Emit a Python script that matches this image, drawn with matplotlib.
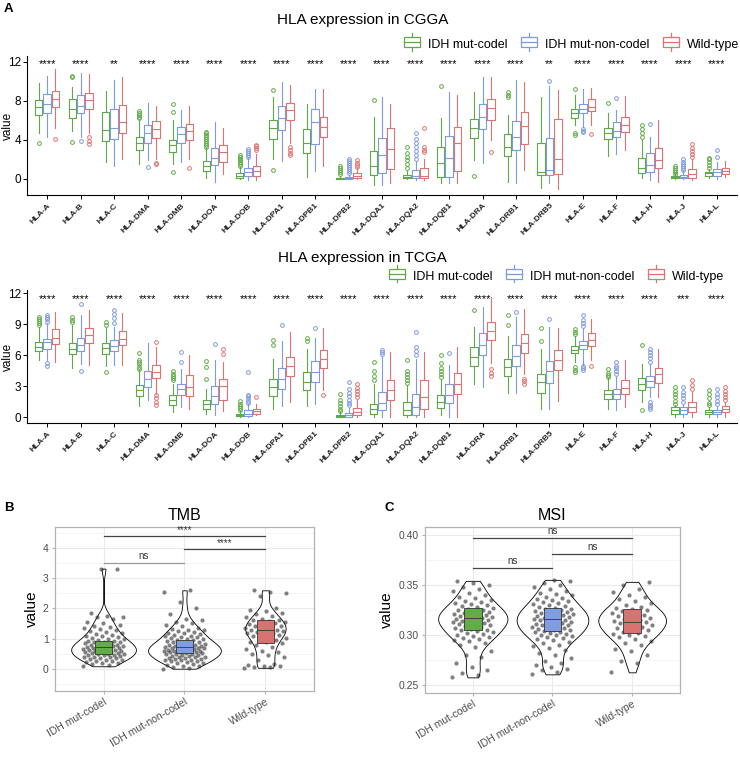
import matplotlib
matplotlib.use("Agg")
import matplotlib.pyplot as plt
import numpy as np
from matplotlib.legend_handler import HandlerBase
from matplotlib.patches import Rectangle, Patch
from matplotlib.lines import Line2D

plt.rcParams["font.family"] = ["Liberation Sans", "DejaVu Sans"]

# ---------------- data ----------------
genes = ["HLA-A", "HLA-B", "HLA-C", "HLA-DMA", "HLA-DMB", "HLA-DOA", "HLA-DOB",
         "HLA-DPA1", "HLA-DPB1", "HLA-DPB2", "HLA-DQA1", "HLA-DQA2", "HLA-DQB1",
         "HLA-DRA", "HLA-DRB1", "HLA-DRB5", "HLA-E", "HLA-F", "HLA-H", "HLA-J", "HLA-L"]
groups = ["IDH mut-codel", "IDH mut-non-codel", "Wild-type"]
group_colors = ["#5FAA46", "#7E9BE0", "#E07272"]
fill_colors = ["#62AD48", "#7F9DE0", "#D87371"]

cgga_signif = ["****", "****", "**", "****", "****", "****", "****", "****", "****", "****", "****",
               "****", "****", "****", "****", "**", "****", "****", "****", "****", "****"]
tcga_signif = ["****"] * 19 + ["***", "****"]

# CGGA box stats (whisker low, q1, median, q3, whisker high), one value per gene
cgga_codel_lo = [4.67, 4.9, 1.7, 1.5, 1.5, 0.13, 0.0, 2.0, 0.24, 0.0, -0.6, 0.0, -0.44, 1.95, -0.27, -0.95, 5.5, 2.35, 0.07, 0.0, 0.1]
cgga_codel_q1 = [6.55, 6.3, 3.92, 2.97, 2.73, 0.85, 0.14, 4.06, 2.63, 0.0, 0.41, 0.07, 0.24, 4.17, 2.39, 0.41, 6.3, 4.06, 0.58, 0.07, 0.31]
cgga_codel_med = [7.4, 7.13, 5.0, 3.72, 3.44, 1.36, 0.31, 5.22, 3.72, 0.07, 1.33, 0.24, 1.6, 5.2, 3.31, 0.75, 6.72, 4.67, 1.09, 0.17, 0.58]
cgga_codel_q3 = [8.08, 8.15, 6.85, 4.33, 3.99, 1.88, 0.58, 6.03, 5.08, 0.14, 2.87, 0.38, 3.25, 6.12, 4.57, 3.65, 7.19, 5.18, 2.11, 0.34, 0.75]
cgga_codel_hi = [9.85, 9.44, 9.0, 5.9, 6.0, 3.2, 1.2, 8.4, 7.67, 0.34, 6.4, 0.85, 6.2, 8.95, 6.6, 8.42, 8.6, 6.72, 4.0, 0.7, 1.0]
cgga_codel_out = [[3.65], [10.6, 10.5, 3.75], [], [6.2, 6.4, 6.6, 6.8, 6.95], [7.67, 6.85, 0.68],
                  [3.3, 3.5, 3.7, 3.9, 4.1, 4.3, 4.5, 4.7, 4.8], [1.3, 1.5, 1.7, 1.9, 2.1, 2.3, 2.5], [9.1, 0.9], [],
                  [0.5, 0.7, 0.9, 1.1, 1.3], [8.1], [1.1, 1.5, 1.9, 2.3, 2.7, 3.3], [9.5], [0.34], [8.4, 8.6, 8.9],
                  [], [9.17, 4.67, 4.5], [7.8], [4.33, 4.7, 5.1, 5.5], [0.5, 0.7, 0.9, 1.1, 1.36], [1.1, 1.4, 1.7, 2.0, 2.2]]

cgga_noncodel_lo = [4.26, 4.33, 1.36, 1.94, 1.74, -0.27, -0.1, 1.88, 0.85, 0.0, -0.6, -0.1, -0.44, 1.6, -0.37, -0.37, 5.35, 2.56, -0.1, 0.0, 0.0]
cgga_noncodel_q1 = [6.72, 6.72, 4.09, 3.72, 3.65, 1.47, 0.34, 5.0, 3.58, 0.0, 0.58, 0.07, 0.24, 5.13, 2.97, 0.41, 6.72, 4.33, 0.68, 0.14, 0.34]
cgga_noncodel_med = [7.64, 7.47, 5.18, 4.67, 4.57, 2.18, 0.75, 6.3, 5.86, 0.07, 2.46, 0.34, 2.2, 6.4, 4.26, 0.92, 7.16, 4.9, 1.4, 0.24, 0.75]
cgga_noncodel_q3 = [8.66, 8.6, 7.13, 5.49, 5.28, 3.2, 1.09, 7.47, 7.2, 0.17, 4.17, 0.92, 4.41, 7.66, 5.93, 4.23, 7.64, 5.8, 2.69, 0.41, 0.99]
cgga_noncodel_hi = [10.6, 10.9, 10.1, 7.74, 7.06, 5.83, 2.2, 9.9, 9.17, 0.4, 8.4, 1.8, 8.9, 10.4, 10.1, 9.5, 9.27, 7.06, 4.33, 0.8, 1.77]
cgga_noncodel_out = [[], [3.9], [], [1.26], [], [], [2.3, 2.5, 2.7, 2.9, 3.1], [], [],
                     [0.6, 0.8, 1.0, 1.2, 1.4, 1.6, 1.8, 2.05], [], [2.1, 2.5, 2.9, 3.3, 3.7, 4.1, 4.7], [], [], [],
                     [10.0], [5.1, 4.95, 4.84], [8.25], [5.63], [0.9, 1.1, 1.3, 1.5, 1.7, 2.05], [2.28, 2.97]]

cgga_wild_lo = [5.25, 4.74, 2.1, 2.0, 2.0, 0.5, -0.1, 3.65, 1.36, 0.0, -0.38, -0.1, -0.4, 4.0, 0.92, -1.06, 5.52, 2.97, -0.27, -0.1, 0.24]
cgga_wild_q1 = [7.33, 7.13, 4.74, 4.19, 3.99, 1.7, 0.34, 6.03, 4.26, 0.13, 1.0, 0.07, 0.85, 6.05, 3.58, 0.51, 6.96, 4.77, 1.09, 0.14, 0.51]
cgga_wild_med = [8.18, 8.08, 5.86, 5.15, 4.9, 2.8, 0.85, 7.06, 5.28, 0.3, 3.04, 0.34, 3.66, 7.25, 5.45, 2.08, 7.4, 5.52, 1.94, 0.5, 0.82]
cgga_wild_q3 = [9.0, 8.76, 7.6, 5.9, 5.63, 3.44, 1.36, 7.8, 6.38, 0.58, 5.2, 1.1, 5.3, 8.17, 6.82, 6.1, 8.15, 6.38, 3.14, 0.99, 1.09]
cgga_wild_hi = [11.25, 10.75, 10.5, 7.47, 7.53, 5.18, 2.6, 9.58, 9.17, 1.1, 7.66, 2.1, 8.6, 10.5, 9.96, 9.1, 9.34, 8.52, 6.03, 2.1, 1.84]
cgga_wild_out = [[4.1], [4.26, 3.92, 3.55], [], [1.67, 1.5], [1.12], [], [3.0, 3.2, 3.4, 3.5],
                 [3.3, 3.0, 2.7, 2.45], [], [1.25, 1.45, 1.65, 1.95], [], [2.8, 3.0, 3.3, 5.2], [], [2.73], [],
                 [], [4.57], [], [], [2.3, 2.6, 2.9, 3.2, 3.58], []]

# TCGA box stats
tcga_codel_lo = [5.51, 4.8, 5.0, 1.04, 0.49, 0.32, 0.0, 0.81, 1.04, 0.0, 0.0, 0.0, 0.16, 3.2, 2.37, 0.81, 5.35, 0.81, 1.46, 0.0, 0.0]
tcga_codel_q1 = [6.42, 6.16, 6.16, 2.08, 1.2, 0.81, 0.06, 2.01, 2.66, 0.0, 0.32, 0.16, 0.88, 4.98, 3.99, 2.34, 6.23, 1.78, 2.66, 0.32, 0.32]
tcga_codel_med = [6.81, 6.65, 6.71, 2.66, 1.62, 1.23, 0.16, 2.92, 3.4, 0.1, 0.81, 0.65, 1.46, 5.85, 4.87, 3.4, 6.55, 2.21, 3.24, 0.65, 0.49]
tcga_codel_q3 = [7.3, 7.2, 7.14, 3.08, 2.17, 1.69, 0.32, 3.67, 4.38, 0.23, 1.3, 1.46, 2.17, 6.75, 5.61, 4.22, 6.91, 2.6, 3.8, 0.97, 0.71]
tcga_codel_hi = [8.76, 8.9, 8.7, 4.54, 3.24, 2.76, 0.6, 5.68, 6.65, 0.5, 3.24, 3.08, 3.57, 8.7, 7.85, 6.65, 7.85, 3.83, 5.19, 1.14, 0.97]
tcga_codel_out = [[8.9, 9.1, 9.3, 9.5, 9.67], [9.2, 9.4, 9.7], [8.9, 9.2, 4.38], [4.7, 4.9, 5.1, 5.3, 5.5, 6.23],
                  [3.57, 3.8, 4.0, 4.2, 4.48], [3.67, 4.9, 5.45], [0.7, 0.9, 1.1, 1.3, 1.6], [6.97, 7.5], [7.4, 7.7],
                  [0.6, 0.8, 1.1, 1.4, 1.7, 2.27], [3.57, 4.0, 4.5, 5.35], [3.3, 3.6, 3.9, 4.2, 4.5, 5.5],
                  [3.9, 4.2, 4.5, 4.8, 5.2, 6.0], [10.4], [8.9, 9.9], [7.4, 8.6], [8.1, 8.3, 8.5, 4.87, 4.6, 4.38],
                  [3.9, 4.1, 4.3, 4.7], [6.97, 0.71], [1.3, 1.6, 1.9, 2.2, 2.5, 2.9], [1.14, 1.4, 1.8, 2.2, 2.6]]

tcga_noncodel_lo = [5.5, 5.19, 5.03, 1.62, 0.97, 0.16, 0.0, 1.04, 1.23, 0.0, 0.0, 0.0, 0.0, 2.9, 2.37, 0.81, 5.03, 0.65, 1.95, 0.0, 0.0]
tcga_noncodel_q1 = [6.58, 6.42, 6.42, 2.92, 2.11, 1.3, 0.06, 2.76, 3.4, 0.0, 0.71, 0.16, 1.36, 6.0, 5.0, 3.34, 6.58, 1.78, 2.92, 0.32, 0.26]
tcga_noncodel_med = [7.27, 6.97, 6.88, 3.73, 2.69, 2.04, 0.25, 3.73, 4.38, 0.16, 1.39, 0.97, 2.17, 7.0, 5.9, 4.48, 6.97, 2.27, 3.47, 0.71, 0.49]
tcga_noncodel_q3 = [7.62, 7.69, 7.46, 4.48, 3.18, 2.98, 0.65, 4.8, 5.45, 0.39, 2.43, 2.27, 3.24, 8.15, 6.97, 5.45, 7.36, 2.76, 3.96, 0.97, 0.71]
tcga_noncodel_hi = [9.15, 9.9, 8.76, 7.2, 4.7, 5.5, 1.3, 7.4, 7.72, 0.9, 5.9, 5.68, 5.03, 10.7, 9.73, 8.76, 8.5, 3.9, 5.19, 1.14, 0.97]
tcga_noncodel_out = [[9.2, 9.5, 9.7, 9.9, 5.2, 5.0], [10.96, 4.48], [9.15, 9.6, 10.0, 10.38], [], [5.38, 6.33],
                     [7.07], [1.4, 1.6, 1.8, 2.0, 2.1, 4.4], [8.98], [8.69], [1.14, 1.4, 1.7, 2.0, 2.3, 2.7, 3.4],
                     [6.1, 6.3, 6.49], [6.0, 6.4, 6.8, 8.27], [6.23], [], [10.2], [9.47],
                     [8.8, 9.1, 9.4, 9.9, 4.96, 4.8, 4.6], [4.22, 4.5, 4.8, 5.0, 5.35],
                     [5.35, 5.7, 6.0, 6.3, 6.65, 1.46, 1.2, 0.95, 0.81], [1.46, 1.8, 2.1, 2.4, 2.9], [1.3, 1.6, 1.9, 2.2, 2.76]]

tcga_wild_lo = [5.35, 5.03, 5.03, 2.27, 0.81, 0.58, 0.2, 1.46, 2.6, 0.0, 0.0, 0.0, 0.0, 5.28, 4.22, 1.56, 5.51, 0.97, 1.95, 0.0, 0.0]
tcga_wild_q1 = [7.07, 7.14, 6.97, 3.83, 2.01, 1.69, 0.33, 3.99, 4.8, 0.16, 1.62, 0.81, 2.27, 7.47, 6.26, 4.54, 6.88, 2.21, 3.34, 0.49, 0.49]
tcga_wild_med = [7.72, 7.95, 7.62, 4.38, 2.92, 2.98, 0.55, 4.93, 5.61, 0.49, 2.66, 1.95, 3.24, 8.38, 7.14, 5.51, 7.46, 2.85, 4.15, 0.97, 0.81]
tcga_wild_q3 = [8.5, 8.6, 8.37, 5.03, 4.05, 3.73, 0.82, 5.84, 6.49, 0.91, 3.57, 3.57, 4.31, 9.19, 8.04, 6.55, 8.11, 3.57, 4.8, 1.46, 1.04]
tcga_wild_hi = [10.15, 10.38, 10.12, 6.8, 6.0, 5.35, 1.27, 8.27, 8.69, 1.62, 6.33, 6.33, 6.75, 11.64, 10.44, 8.6, 9.47, 5.51, 6.65, 2.43, 1.46]
tcga_wild_out = [[], [], [], [7.27, 2.1, 1.8, 1.5, 1.14], [], [6.1, 6.65], [1.92], [], [2.1],
                 [1.95, 2.2, 2.5, 2.8, 3.24], [], [], [], [4.7, 4.3, 3.98], [3.73, 3.5, 3.18], [], [4.93], [], [],
                 [2.76, 3.1, 3.57], [1.62, 1.9, 2.2, 2.5, 2.9]]

# TMB / MSI per-sample values (read from the jittered points)
tmb_codel = [0.08, 0.12, 0.15, 0.18, 0.2, 0.22, 0.25, 0.27, 0.3, 0.3, 0.32, 0.35, 0.36, 0.38, 0.4, 0.4, 0.42,
             0.44, 0.45, 0.46, 0.48, 0.5, 0.5, 0.52, 0.53, 0.55, 0.55, 0.56, 0.58, 0.6, 0.6, 0.62, 0.63, 0.65,
             0.66, 0.68, 0.7, 0.7, 0.72, 0.72, 0.74, 0.75, 0.76, 0.78, 0.8, 0.8, 0.82, 0.84, 0.85, 0.87, 0.88,
             0.9, 0.92, 0.93, 0.95, 0.97, 1.0, 1.02, 1.05, 1.08, 1.1, 1.12, 1.15, 1.2, 1.22, 1.25, 1.3, 1.32,
             1.35, 1.38, 1.4, 1.45, 1.5, 1.55, 1.65, 1.7, 1.72, 1.75, 1.85, 3.3, 3.32]
tmb_noncodel = [0.0, 0.03, 0.05, 0.08, 0.1, 0.12, 0.15, 0.18, 0.2, 0.22, 0.25, 0.27, 0.28, 0.3, 0.3, 0.32, 0.33,
                0.35, 0.36, 0.38, 0.4, 0.4, 0.42, 0.43, 0.45, 0.46, 0.48, 0.5, 0.5, 0.52, 0.53, 0.55, 0.55, 0.56,
                0.58, 0.58, 0.6, 0.6, 0.62, 0.63, 0.64, 0.65, 0.67, 0.68, 0.7, 0.7, 0.72, 0.72, 0.73, 0.75, 0.76,
                0.78, 0.8, 0.8, 0.82, 0.83, 0.85, 0.87, 0.88, 0.9, 0.92, 0.94, 0.95, 0.97, 1.0, 1.02, 1.04, 1.06,
                1.08, 1.1, 1.12, 1.15, 1.18, 1.2, 1.22, 1.25, 1.28, 1.3, 1.33, 1.36, 1.4, 1.45, 1.5, 1.55, 1.6,
                1.65, 1.8, 2.0, 2.2, 2.55, 2.6]
tmb_wild = [0.03, 0.05, 0.06, 0.08, 0.1, 0.12, 0.15, 0.3, 0.4, 0.45, 0.5, 0.55, 0.6, 0.65, 0.72, 0.8, 0.85,
            0.88, 0.9, 0.95, 1.0, 1.02, 1.05, 1.1, 1.12, 1.15, 1.18, 1.2, 1.22, 1.25, 1.27, 1.28, 1.3, 1.32,
            1.35, 1.38, 1.4, 1.42, 1.45, 1.48, 1.5, 1.52, 1.55, 1.58, 1.6, 1.62, 1.65, 1.7, 1.75, 1.8, 1.85,
            1.9, 1.95, 2.0, 2.4, 2.5, 2.55, 2.6]
msi_codel = [0.258, 0.26, 0.262, 0.265, 0.268, 0.272, 0.278, 0.28, 0.284, 0.288, 0.29, 0.292, 0.294, 0.295,
             0.296, 0.297, 0.298, 0.299, 0.300, 0.301, 0.302, 0.303, 0.304, 0.305, 0.305, 0.306, 0.307, 0.308,
             0.309, 0.31, 0.31, 0.311, 0.312, 0.312, 0.313, 0.314, 0.314, 0.315, 0.316, 0.316, 0.317, 0.317,
             0.318, 0.318, 0.319, 0.32, 0.32, 0.321, 0.322, 0.322, 0.323, 0.324, 0.325, 0.325, 0.326, 0.327,
             0.328, 0.329, 0.33, 0.331, 0.332, 0.333, 0.334, 0.335, 0.337, 0.338, 0.34, 0.342, 0.344, 0.346,
             0.348, 0.35, 0.352, 0.354]
msi_noncodel = [0.261, 0.263, 0.265, 0.266, 0.268, 0.27, 0.272, 0.274, 0.277, 0.28, 0.282, 0.285, 0.287,
                0.289, 0.29, 0.292, 0.293, 0.295, 0.296, 0.297, 0.298, 0.299, 0.3, 0.3, 0.301, 0.302, 0.303,
                0.303, 0.304, 0.305, 0.305, 0.306, 0.307, 0.307, 0.308, 0.309, 0.31, 0.31, 0.311, 0.311, 0.312,
                0.313, 0.313, 0.314, 0.315, 0.315, 0.316, 0.316, 0.317, 0.317, 0.318, 0.319, 0.319, 0.32, 0.32,
                0.321, 0.322, 0.322, 0.323, 0.324, 0.324, 0.325, 0.326, 0.326, 0.327, 0.328, 0.329, 0.33, 0.331,
                0.332, 0.333, 0.334, 0.335, 0.336, 0.337, 0.338, 0.34, 0.341, 0.342, 0.344, 0.346, 0.348, 0.35,
                0.352, 0.354, 0.355]
msi_wild = [0.263, 0.272, 0.274, 0.28, 0.284, 0.286, 0.29, 0.292, 0.294, 0.296, 0.298, 0.299, 0.3, 0.301,
            0.302, 0.303, 0.305, 0.306, 0.307, 0.308, 0.309, 0.31, 0.311, 0.312, 0.313, 0.313, 0.314, 0.315,
            0.316, 0.317, 0.318, 0.319, 0.32, 0.321, 0.322, 0.323, 0.324, 0.325, 0.326, 0.327, 0.328, 0.33,
            0.332, 0.334, 0.336, 0.338, 0.34, 0.343, 0.346, 0.35, 0.353]

tmb_box = [(0.5, 0.72, 0.92), (0.52, 0.72, 0.95), (0.85, 1.27, 1.6)]
msi_box = [(0.305, 0.317, 0.327), (0.304, 0.316, 0.327), (0.302, 0.313, 0.326)]

tmb_pairs = [(1, 3, 4.4, "****"), (2, 3, 3.97, "****"), (1, 2, 3.52, "ns")]
msi_pairs = [(1, 3, 0.397, "ns"), (2, 3, 0.381, "ns"), (1, 2, 0.367, "ns")]


class BoxKey(HandlerBase):
    def create_artists(self, legend, orig, xd, yd, w, h, fontsize, trans):
        c = orig.get_edgecolor()
        x0, x1 = xd + 0.05 * w, xd + 0.95 * w
        xm = xd + 0.5 * w
        rect = Rectangle((x0, yd + 0.05 * h), x1 - x0, 0.9 * h, fill=False, ec=c, lw=0.9, transform=trans)
        med = Line2D([x0, x1], [yd + 0.5 * h] * 2, color=c, lw=0.9, transform=trans)
        w1 = Line2D([xm, xm], [yd - 0.3 * h, yd + 0.05 * h], color=c, lw=0.9, transform=trans)
        w2 = Line2D([xm, xm], [yd + 0.95 * h, yd + 1.3 * h], color=c, lw=0.9, transform=trans)
        return [rect, med, w1, w2]


def hla_panel(ax, stats, outs, signif, ylim, yticks):
    pos = np.arange(1, len(genes) + 1)
    for g in range(3):
        lo, q1, med, q3, hi = stats[g]
        bstats = [dict(whislo=lo[i], q1=q1[i], med=med[i], q3=q3[i], whishi=hi[i], fliers=outs[g][i])
                  for i in range(len(genes))]
        col = group_colors[g]
        ax.bxp(bstats, positions=pos + (g - 1) * 0.25, widths=0.22, showcaps=False,
               boxprops=dict(color=col, lw=0.8), medianprops=dict(color=col, lw=0.8),
               whiskerprops=dict(color=col, lw=0.8),
               flierprops=dict(marker="o", mfc="none", mec=col, ms=2.7, mew=0.7))
    for i, s in enumerate(signif):
        ax.text(pos[i], ylim[1] - 0.85, s, ha="center", va="center", fontsize=8)
    ax.set_xlim(0.4, len(genes) + 0.6)
    ax.set_ylim(*ylim)
    ax.set_yticks(yticks)
    ax.set_xticks(pos)
    ax.set_xticklabels(genes, rotation=45, ha="right", rotation_mode="anchor",
                       fontsize=6, fontweight="bold", color="#222222")
    ax.tick_params(axis="y", labelsize=8.5, length=3, width=0.7, pad=1)
    ax.tick_params(axis="x", length=3, width=0.7, pad=2)
    ax.spines["top"].set_visible(False)
    ax.spines["right"].set_visible(False)
    ax.spines["left"].set_linewidth(0.8)
    ax.spines["bottom"].set_linewidth(0.8)
    ax.set_ylabel("value", fontsize=8.5)
    ax.yaxis.set_label_coords(-0.018, 0.5)


def violin_panel(ax, data, box, pairs, widths, ylim, yticks, minor, fmt, title):
    pos = [1, 2, 3]
    vp = ax.violinplot(data, positions=pos, widths=widths, showextrema=False, bw_method=0.35)
    for b in vp["bodies"]:
        b.set_facecolor("white")
        b.set_alpha(1)
        b.set_edgecolor("black")
        b.set_linewidth(0.6)
        b.set_zorder(2)
    for g, vals in enumerate(data):
        n = len(vals)
        jit = ((np.arange(n) * 0.6180339887) % 1.0 - 0.5) * 0.52
        ax.scatter(pos[g] + jit, vals, s=9, color="#2b2b2b", alpha=0.6, lw=0, zorder=3)
    bstats = [dict(whislo=b[0], q1=b[0], med=b[1], q3=b[2], whishi=b[2], fliers=[]) for b in box]
    bp = ax.bxp(bstats, positions=pos, widths=0.22, showcaps=False, showfliers=False, patch_artist=True,
                boxprops=dict(lw=0.6, edgecolor="#333333"), medianprops=dict(color="#333333", lw=0.6),
                whiskerprops=dict(lw=0), zorder=4)
    for patch, c in zip(bp["boxes"], fill_colors):
        patch.set_facecolor(c)
    for x1, x2, y, lab in pairs:
        lc = "#999999" if (lab == "ns" and title == "TMB") else "#444444"
        ax.plot([x1, x2], [y, y], color=lc, lw=0.9, zorder=5)
        ax.text((x1 + x2) / 2, y + (ylim[1] - ylim[0]) * 0.008, lab, ha="center", va="bottom",
                fontsize=7, color="#333333")
    ax.set_xlim(0.4, 3.6)
    ax.set_ylim(*ylim)
    ax.set_yticks(yticks)
    ax.set_yticklabels([fmt.format(t) for t in yticks])
    ax.set_yticks(minor, minor=True)
    ax.set_xticks(pos)
    ax.set_xticklabels(groups, rotation=30, ha="right", rotation_mode="anchor", fontsize=7, color="#4d4d4d")
    ax.grid(True, which="major", color="#EBEBEB", lw=0.8)
    ax.grid(True, which="minor", axis="y", color="#F4F4F4", lw=0.6)
    ax.set_axisbelow(True)
    for sp in ax.spines.values():
        sp.set_color("#B3B3B3")
        sp.set_linewidth(0.9)
    ax.tick_params(which="major", color="#B3B3B3", labelcolor="#4d4d4d", labelsize=7.5, length=2.5, pad=2)
    ax.tick_params(axis="x", pad=1.5)
    ax.tick_params(which="minor", length=0)
    ax.set_ylabel("value", fontsize=11, labelpad=3)
    ax.set_title(title, fontsize=11.5, pad=5)


fig = plt.figure(figsize=(7.4, 7.57), dpi=100)

ax1 = fig.add_axes([0.0365, 0.7424, 0.9595, 0.1836])
hla_panel(ax1,
          [(cgga_codel_lo, cgga_codel_q1, cgga_codel_med, cgga_codel_q3, cgga_codel_hi),
           (cgga_noncodel_lo, cgga_noncodel_q1, cgga_noncodel_med, cgga_noncodel_q3, cgga_noncodel_hi),
           (cgga_wild_lo, cgga_wild_q1, cgga_wild_med, cgga_wild_q3, cgga_wild_hi)],
          [cgga_codel_out, cgga_noncodel_out, cgga_wild_out], cgga_signif, (-1.64, 12.6), [0, 4, 8, 12])

ax2 = fig.add_axes([0.0365, 0.4412, 0.9595, 0.1757])
hla_panel(ax2,
          [(tcga_codel_lo, tcga_codel_q1, tcga_codel_med, tcga_codel_q3, tcga_codel_hi),
           (tcga_noncodel_lo, tcga_noncodel_q1, tcga_noncodel_med, tcga_noncodel_q3, tcga_noncodel_hi),
           (tcga_wild_lo, tcga_wild_q1, tcga_wild_med, tcga_wild_q3, tcga_wild_hi)],
          [tcga_codel_out, tcga_noncodel_out, tcga_wild_out], tcga_signif, (-0.58, 12.33), [0, 3, 6, 9, 12])

fig.text(0.49, 0.9736, "HLA expression in CGGA", ha="center", va="center", fontsize=11)
fig.text(0.49, 0.659, "HLA expression in TCGA", ha="center", va="center", fontsize=11)

handles = [Patch(facecolor="none", edgecolor=c) for c in group_colors]
for ybox, xbox in [(0.9405, 403 / 740), (0.6341, 388 / 740)]:
    fig.legend(handles, groups, handler_map={Patch: BoxKey()}, loc="center left",
               bbox_to_anchor=(xbox, ybox), ncol=3, frameon=False, fontsize=9,
               handlelength=1.45, handleheight=0.95, handletextpad=0.55, columnspacing=1.0,
               borderpad=0, borderaxespad=0)

ax3 = fig.add_axes([0.0743, 0.0872, 0.35, 0.2166])
violin_panel(ax3, [tmb_codel, tmb_noncodel, tmb_wild], tmb_box, tmb_pairs, [0.8, 0.9, 0.5],
             (-0.74, 4.7), [0, 1, 2, 3, 4], [-0.5, 0.5, 1.5, 2.5, 3.5, 4.5], "{:g}", "TMB")

ax4 = fig.add_axes([0.5743, 0.0845, 0.3446, 0.2194])
violin_panel(ax4, [msi_codel, msi_noncodel, msi_wild], msi_box, msi_pairs, [0.87, 0.9, 0.85],
             (0.2424, 0.4076), [0.25, 0.30, 0.35, 0.40], [0.275, 0.325, 0.375], "{:.2f}", "MSI")

fig.text(0.005, 0.988, "A", fontsize=9.5, fontweight="bold", va="center")
fig.text(0.005, 0.329, "B", fontsize=9.5, fontweight="bold", va="center")
fig.text(0.519, 0.329, "C", fontsize=9.5, fontweight="bold", va="center")

fig.savefig("out.png", dpi=100)
